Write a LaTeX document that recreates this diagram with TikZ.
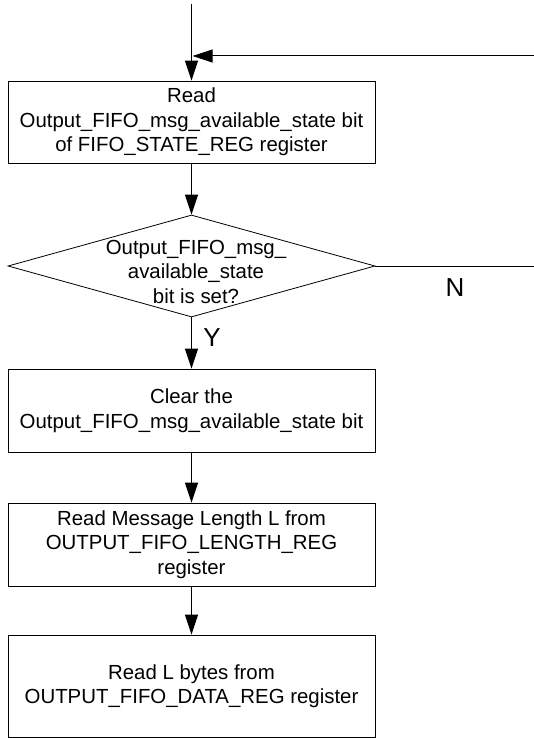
\documentclass[tikz,border=0pt]{standalone}
\usepackage{fontspec}
\setmainfont{Liberation Sans}
\usetikzlibrary{arrows.meta,shapes.geometric}
\begin{document}
\begin{tikzpicture}[x=1pt,y=1pt,
  every node/.style={font=\fontsize{20.4}{24.5}\selectfont},
  procbox/.style={draw, line width=0.8pt, rectangle, minimum width=367pt, inner sep=0pt, align=center},
  decbox/.style={draw, line width=0.8pt, diamond, minimum width=367pt, minimum height=102pt, inner sep=0pt},
  lbl/.style={align=center, inner sep=0pt},
  yn/.style={font=\fontsize{26}{30}\selectfont, inner sep=0pt},
  flow/.style={line width=1pt, -{Triangle[length=20pt,width=13pt]}},
  plain/.style={line width=1pt}]
\useasboundingbox (0,0) rectangle (534,-738);
\coordinate (top) at (191.5,-4);
\node[procbox, minimum height=82pt] (b1) at (191.5,-122) {Read\\Output\_FIFO\_msg\_available\_state bit\\of FIFO\_STATE\_REG register};
\node[decbox] (d) at (191.5,-266) {};
\node[lbl] (dt) at (196,-271.5) {Output\_FIFO\_msg\_\\available\_state\\bit is set?};
\node[procbox, minimum height=83pt] (b2) at (191.5,-410.5) {Clear the\\Output\_FIFO\_msg\_available\_state bit};
\node[procbox, minimum height=83pt] (b3) at (191.5,-544.5) {Read Message Length L from\\OUTPUT\_FIFO\_LENGTH\_REG\\register};
\node[procbox, minimum height=102pt] (b4) at (191.5,-686) {Read L bytes from\\OUTPUT\_FIFO\_DATA\_REG register};
\coordinate (fbR) at (534,-56);
\coordinate (fbL) at (192.5,-56);
\coordinate (nR) at (534,-266);
\node[yn] (Y) at (212,-337.5) {Y};
\node[yn] (N) at (455,-287.5) {N};
\draw[flow] (top) -- (b1.north);
\draw[flow] (fbR) -- (fbL);
\draw[flow] (b1.south) -- (d.north);
\draw[plain] (d.east) -- (nR);
\draw[flow] (d.south) -- (b2.north);
\draw[flow] (b2.south) -- (b3.north);
\draw[flow] (b3.south) -- (b4.north);
\end{tikzpicture}
\end{document}
